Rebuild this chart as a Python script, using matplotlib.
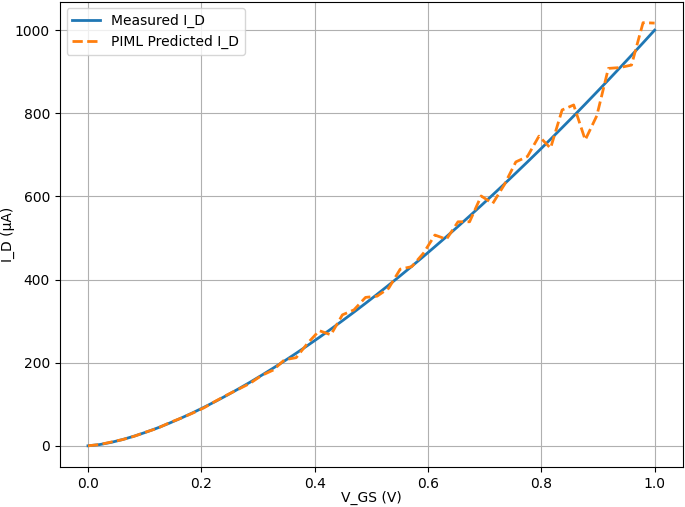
import numpy as np
import matplotlib
matplotlib.use("Agg")
import matplotlib.pyplot as plt

v_gs = np.linspace(0, 1, 50)

measured_id = [0.0, 2.9, 8.2, 15.1, 23.3, 32.6, 42.8, 54.0, 66.0, 78.7,
               92.2, 106.4, 121.2, 136.7, 152.7, 169.4, 186.6, 204.3, 222.6, 241.5,
               260.8, 280.6, 300.9, 321.6, 342.8, 364.4, 386.5, 409.0, 431.9, 455.3,
               479.1, 503.2, 527.8, 552.7, 578.0, 603.7, 629.7, 656.2, 682.9, 710.0,
               737.5, 765.4, 793.5, 822.1, 851.0, 880.1, 909.6, 939.4, 969.5, 1000.0]

predicted_id = [0, 3, 9, 15, 23, 33, 42, 55, 66, 78,
                91, 107, 122, 136, 150, 169, 182, 207, 212, 247,
                277, 267, 315, 327, 357, 360, 379, 425, 431, 463,
                507, 497, 539, 539, 601, 583, 628, 683, 696, 745,
                716, 808, 820, 736, 794, 908, 910, 916, 1018, 1017]

fig = plt.figure(figsize=(6.85, 5.07), dpi=100)
ax = fig.add_axes([0.0871, 0.079, 0.9099, 0.918])
ax.plot(v_gs, measured_id, color="#1f77b4", linewidth=2, label="Measured I_D")
ax.plot(v_gs, predicted_id, color="#ff7f0e", linewidth=2, linestyle="--", label="PIML Predicted I_D")
ax.set_xlabel("V_GS (V)", labelpad=0)
ax.set_ylabel("I_D (µA)", labelpad=0)
ax.grid(True)
ax.legend(loc="upper left")
fig.savefig("out.png", dpi=100)
